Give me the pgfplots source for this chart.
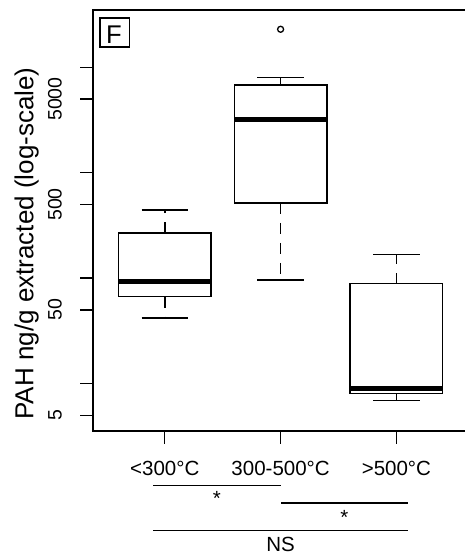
\documentclass[border=0pt]{standalone}
\usepackage{fontspec}
\setmainfont{Liberation Sans}
\usepackage{pgfplots}
\pgfplotsset{compat=1.18}
\usepgfplotslibrary{statistics}
\begin{document}
\begin{tikzpicture}
% y values are log10 of PAH ng/g (axis is log-scaled)
\begin{axis}[
  scale only axis, width=375.2pt, height=421pt,
  at={(0pt,0pt)}, anchor=south west,
  xmin=0.38, xmax=3.62,
  ymin=0.550, ymax=4.544,
  clip=false,
  axis lines*=left,
  axis line style={draw=none},
  xtick={1,2,3},
  xticklabels={<300°C, 300-500°C, >500°C},
  ytick={0.69897,1,1.69897,2,2.69897,3,3.69897,4},
  yticklabels={5,,50,,500,,5000,},
  yminorticks=false, xminorticks=false,
  xtick pos=bottom, ytick pos=left,
  tick align=outside, major tick length=12.5pt,
  tick style={line width=1.4pt, black},
  xticklabel shift=32.2pt,
  yticklabel shift=18.8pt,
  xticklabel style={anchor=base, font=\fontsize{20.5}{24}\selectfont},
  yticklabel style={rotate=90, anchor=base, font=\fontsize{19.5}{23}\selectfont},
  boxplot/draw direction=y,
  boxplot/box extend=0.8,
  boxplot/whisker extend=0.4,
  boxplot/every median/.style={line width=5pt},
  boxplot/draw/whisker/.code 2 args={%
    \draw[dash pattern=on 11pt off 9pt] (boxplot cs:#1) -- (boxplot cs:#2);
    \draw (boxplot whisker cs:#2,0) -- (boxplot whisker cs:#2,1);
  },
]
% <300C: 41.7, 66.9, 92.9, 267, 443
\addplot[black, line width=1.5pt, boxplot prepared={draw position=1,
  lower whisker=1.620, lower quartile=1.825, median=1.968,
  upper quartile=2.427, upper whisker=2.646}] coordinates {};
% 300-500C: 95.7, 519, 3185, 6810, 8040
\addplot[black, line width=1.5pt, boxplot prepared={draw position=2,
  lower whisker=1.981, lower quartile=2.715, median=3.503,
  upper quartile=3.833, upper whisker=3.905}] coordinates {};
% >500C: 6.88, 8.09, 9.04, 88.9, 167.5
\addplot[black, line width=1.5pt, boxplot prepared={draw position=3,
  lower whisker=0.838, lower quartile=0.908, median=0.956,
  upper quartile=1.949, upper whisker=2.224}] coordinates {};
% outlier 22960
\addplot[only marks, mark=o, mark size=3pt, line width=1.3pt, black] coordinates {(2,4.361)};
\end{axis}
% plot frame: left, top and bottom (right edge lies outside the cropped picture)
\draw[line width=1.4pt, line join=miter] (372pt,421pt) -- (0pt,421pt) -- (0pt,0pt) -- (372pt,0pt);
% panel letter
\draw[line width=1.3pt] (7pt,384pt) rectangle (36.3pt,413pt);
\node[anchor=base, inner sep=0pt, font=\fontsize{25.6}{30}\selectfont] at (21pt,387.7pt) {F};
% y label
\node[rotate=90, anchor=base, inner sep=0pt, font=\fontsize{26}{30}\selectfont] at (-59.7pt,187.6pt) {PAH ng/g extracted (log-scale)};
% significance annotations
\draw[line width=1.4pt] (60.2pt,-54.3pt) -- (187.6pt,-54.3pt);
\node[anchor=base, inner sep=0pt, font=\fontsize{20.5}{24}\selectfont] at (123.9pt,-74.4pt) {*};
\draw[line width=1.4pt] (188pt,-72pt) -- (315pt,-72pt);
\node[anchor=base, inner sep=0pt, font=\fontsize{20.5}{24}\selectfont] at (251.3pt,-93.7pt) {*};
\draw[line width=1.4pt] (60.2pt,-99.7pt) -- (315pt,-99.7pt);
\node[anchor=base, inner sep=0pt, font=\fontsize{20.5}{24}\selectfont] at (187.6pt,-120.7pt) {NS};
\pgfresetboundingbox
\useasboundingbox (-93pt,-126pt) rectangle (372pt,431pt);
\end{tikzpicture}
\end{document}
